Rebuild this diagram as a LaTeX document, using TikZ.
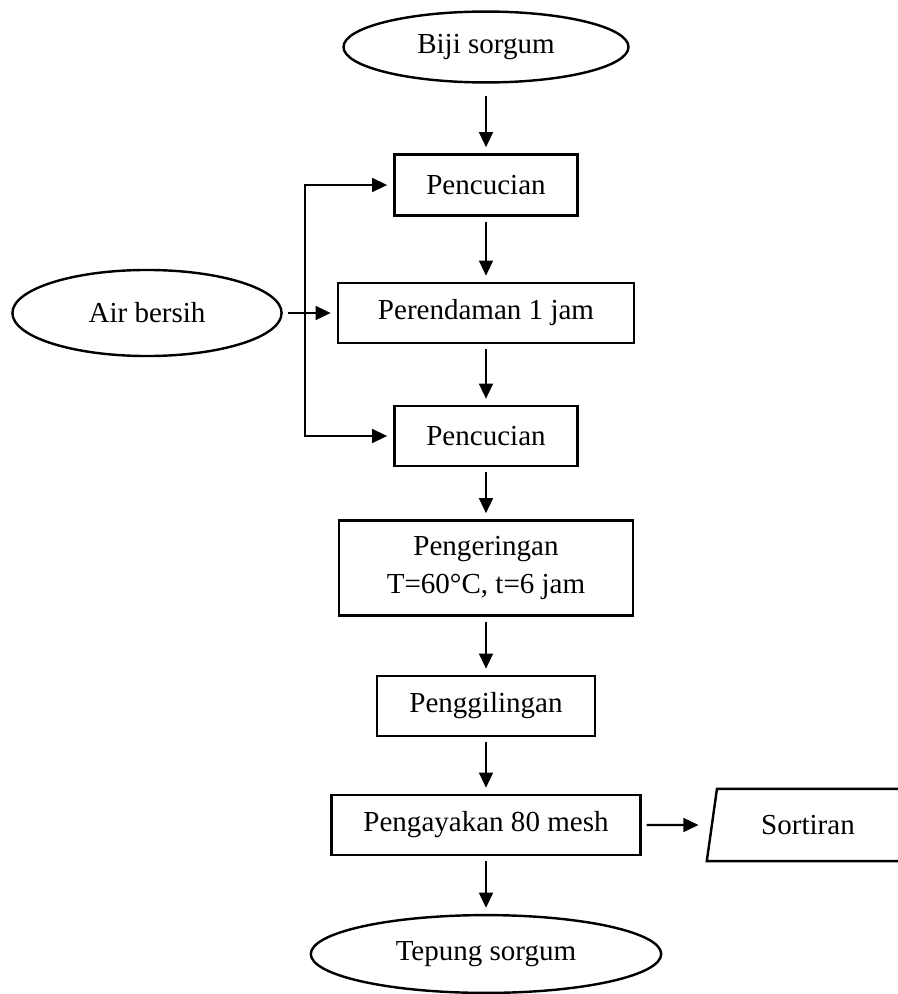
\documentclass[tikz,border=0pt]{standalone}
\usepackage{fontspec}
\setmainfont{Liberation Serif}
\usetikzlibrary{positioning,shapes.geometric,arrows.meta}

\begin{document}
\begin{tikzpicture}[x=0.01453cm,y=-0.01453cm,
        box/.style={draw,line width=1pt,inner sep=0pt,minimum height=0.872cm,font=\fontsize{12}{15.5}\selectfont},
        oval/.style={draw,ellipse,line width=1pt,inner sep=0pt,font=\fontsize{12}{15.5}\selectfont},
        flow/.style={-{Triangle[length=2.2mm,width=2mm]},line width=1pt,shorten <=2pt,shorten >=2.5pt}]
        \useasboundingbox (0,0) rectangle (898,994);

        \node[oval,minimum width=4.14cm,minimum height=1.03cm] at (486,47) (biji) {Biji sorgum};
        \node[box,minimum width=2.66cm,minimum height=0.886cm] at (486,185) (cuci1) {Pencucian};
        \node[box,minimum width=4.30cm] at (486,313) (rendam) {Perendaman 1 jam};
        \node[oval,minimum width=3.91cm,minimum height=1.25cm] at (147,313) (air) {Air bersih};
        \node[box,minimum width=2.66cm] at (486,436) (cuci2) {Pencucian};
        \node[box,minimum width=4.27cm,minimum height=1.38cm,align=center] at (486,568) (kering) {Pengeringan\\T=60°C, t=6 jam};
        \node[box,minimum width=3.17cm] at (486,706) (giling) {Penggilingan};
        \node[box,minimum width=4.49cm] at (486,825) (ayak) {Pengayakan 80 mesh};
        \node[draw,trapezium,trapezium left angle=75,trapezium right angle=105,trapezium stretches,
            line width=1pt,inner sep=0pt,minimum width=2.95cm,minimum height=1.05cm,
            font=\fontsize{12}{15.5}\selectfont] at (808,825) (sortir) {Sortiran};
        \node[oval,minimum width=5.09cm,minimum height=1.13cm] at (486,954) (tepung) {Tepung sorgum};
        \coordinate (cabang) at (305,313);

        \draw[flow,shorten <=5pt] (biji) -- (cuci1);
        \draw[flow] (cuci1) -- (rendam);
        \draw[flow] (rendam) -- (cuci2);
        \draw[flow] (cuci2) -- (kering);
        \draw[flow] (kering) -- (giling);
        \draw[flow] (giling) -- (ayak);
        \draw[flow] (ayak) -- (tepung);
        \draw[flow,shorten >=5pt] (ayak) -- (sortir);
        \draw[flow] (air) -- (rendam);
        \draw[flow,shorten <=0pt] (cabang) |- (cuci1);
        \draw[flow,shorten <=0pt] (cabang) |- (cuci2);
      \end{tikzpicture}
\end{document}
